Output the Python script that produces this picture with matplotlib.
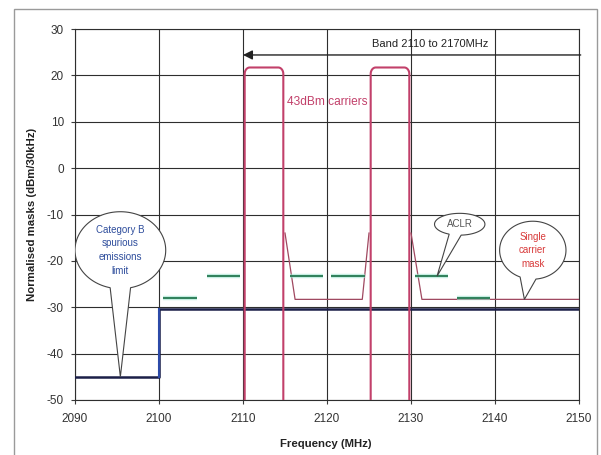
import numpy as np
import matplotlib
matplotlib.use("Agg")
import matplotlib.pyplot as plt
from matplotlib.patches import Polygon, Rectangle

plt.rcParams['font.family'] = ['Liberation Sans', 'DejaVu Sans']
plt.rcParams['axes.unicode_minus'] = False

# Axis ranges and ticks
x_ticks = [2090, 2100, 2110, 2120, 2130, 2140, 2150]
y_ticks = [-50, -40, -30, -20, -10, 0, 10, 20, 30]

# 43 dBm carriers: channel edges (MHz) and normalised peak level
carrier_lo = [2110.2, 2125.2]
carrier_hi = [2114.8, 2129.8]
carrier_peak = 21.7

# Single carrier mask segments (frequency MHz, level dBm/30kHz)
mask_a_freq = [2115.0, 2116.2, 2124.2, 2125.0]
mask_a_level = [-14.0, -28.3, -28.3, -14.0]
mask_b_freq = [2130.0, 2131.3, 2150.0]
mask_b_level = [-14.0, -28.3, -28.3]

# ACLR limit segments: (start MHz, end MHz, level)
aclr_start = [2100.5, 2105.7, 2115.6, 2120.5, 2130.5, 2135.5]
aclr_end = [2104.5, 2109.6, 2119.5, 2124.5, 2134.4, 2139.4]
aclr_level = [-28.0, -23.3, -23.3, -23.3, -23.3, -28.0]

# Category B spurious emissions limit
spur_freq = [2090.0, 2100.0, 2100.0, 2150.0]
spur_level = [-45.0, -45.0, -30.4, -30.4]

band_lo, band_hi, band_level = 2110.0, 2150.2, 24.4

fig = plt.figure(figsize=(6.01, 4.55), dpi=100)
fig.patch.set_facecolor('white')
ax = fig.add_axes([75/601, 1-400/455, 504/601, 371/455])

# outer frame
fig.patches.append(Rectangle((14/601, -0.05), (597-14)/601, 1-9/455+0.05,
                             transform=fig.transFigure, fill=False,
                             edgecolor='#9a9a9a', lw=1.0))

ax.set_xlim(2090, 2150)
ax.set_ylim(-50, 30)
ax.set_xticks(x_ticks)
ax.set_yticks(y_ticks)
ax.grid(True, color='#2e2e2e', lw=0.8)
ax.set_axisbelow(True)
for s in ax.spines.values():
    s.set_color('#2e2e2e')
    s.set_linewidth(0.8)
ax.tick_params(axis='both', direction='out', length=3, width=0.8,
               colors='#3a3a3a', labelsize=8.5, labelcolor='#333333')
ax.tick_params(axis='x', pad=6)
ax.tick_params(axis='y', pad=5)

ax.set_xlabel('Frequency (MHz)', fontsize=8.2, fontweight='bold', color='#222222')
ax.set_ylabel('Normalised masks (dBm/30kHz)', fontsize=8.2, fontweight='bold', color='#222222')
ax.xaxis.set_label_coords(0.498, -0.105)
ax.yaxis.set_label_coords(-0.075, 0.5)

carrier_col = '#c2406a'

# carriers with rounded shoulders
rx, ry = 0.6, 1.4
for lo, hi in zip(carrier_lo, carrier_hi):
    th = np.linspace(np.pi, np.pi/2, 12)
    left_x = lo + rx + rx*np.cos(th)
    left_y = carrier_peak - ry + ry*np.sin(th)
    th2 = np.linspace(np.pi/2, 0, 12)
    right_x = hi - rx + rx*np.cos(th2)
    right_y = carrier_peak - ry + ry*np.sin(th2)
    xs = np.concatenate([[lo], left_x, right_x, [hi]])
    ys = np.concatenate([[-50], left_y, right_y, [-50]])
    ax.plot(xs, ys, color=carrier_col, lw=1.5, zorder=4, clip_on=False,
            solid_capstyle='butt')

# mask lines
ax.plot(mask_a_freq, mask_a_level, color='#a04860', lw=0.9, zorder=3)
ax.plot(mask_b_freq, mask_b_level, color='#a04860', lw=0.9, zorder=3)

# ACLR segments
for s, e, lv in zip(aclr_start, aclr_end, aclr_level):
    ax.plot([s, e], [lv, lv], color='#9fe3d0', lw=3.2, zorder=3, alpha=0.6,
            solid_capstyle='butt')
    ax.plot([s, e], [lv, lv], color='#2f7f5a', lw=1.4, zorder=3,
            solid_capstyle='butt')

# spurious limit
ax.plot(spur_freq, spur_level, color='#1b1f48', lw=1.8, zorder=3)
ax.plot(spur_freq[1:3], spur_level[1:3], color='#2c4aa8', lw=1.5, zorder=3)

# band arrow
ax.annotate('', xy=(band_lo, band_level), xytext=(band_hi, band_level),
            arrowprops=dict(arrowstyle='-|>', color='#222222', lw=1.0,
                            mutation_scale=14, shrinkA=0, shrinkB=0),
            annotation_clip=False, zorder=5)
ax.text(2132.3, 26.7, 'Band 2110 to 2170MHz', fontsize=8, color='#222222',
        ha='center', va='center')

ax.text(2115.2, 14.2, '43dBm carriers', fontsize=8.6, color='#c2406a',
        ha='left', va='center', zorder=6)


def callout(cx, cy, w, h, tip, gap_deg, text, tcolor, fs=7):
    a, b = w/2.0, h/2.0
    t0 = np.arctan2((tip[1]-cy)/b, (tip[0]-cx)/a)
    g = np.deg2rad(gap_deg)
    t = np.linspace(t0+g, t0+2*np.pi-g, 120)
    px = cx + a*np.cos(t)
    py = cy + b*np.sin(t)
    pts = np.column_stack([np.append(px, tip[0]), np.append(py, tip[1])])
    ax.add_patch(Polygon(pts, closed=True, facecolor='white',
                         edgecolor='#444444', lw=0.8, zorder=6))
    ax.text(cx, cy, text, fontsize=fs, color=tcolor, ha='center', va='center',
            linespacing=1.45, zorder=7)


callout(2095.4, -17.7, 10.8, 16.6, (2095.4, -45.0), 13,
        'Category B\nspurious\nemissions\nlimit', '#2e4d9c')
callout(2135.8, -12.1, 6.0, 4.7, (2133.1, -23.3), 14, 'ACLR', '#555555')
callout(2144.5, -17.7, 7.9, 12.5, (2143.5, -28.3), 14,
        'Single\ncarrier\nmask', '#d83a3a')

fig.savefig('out.png', dpi=100, facecolor='white')
